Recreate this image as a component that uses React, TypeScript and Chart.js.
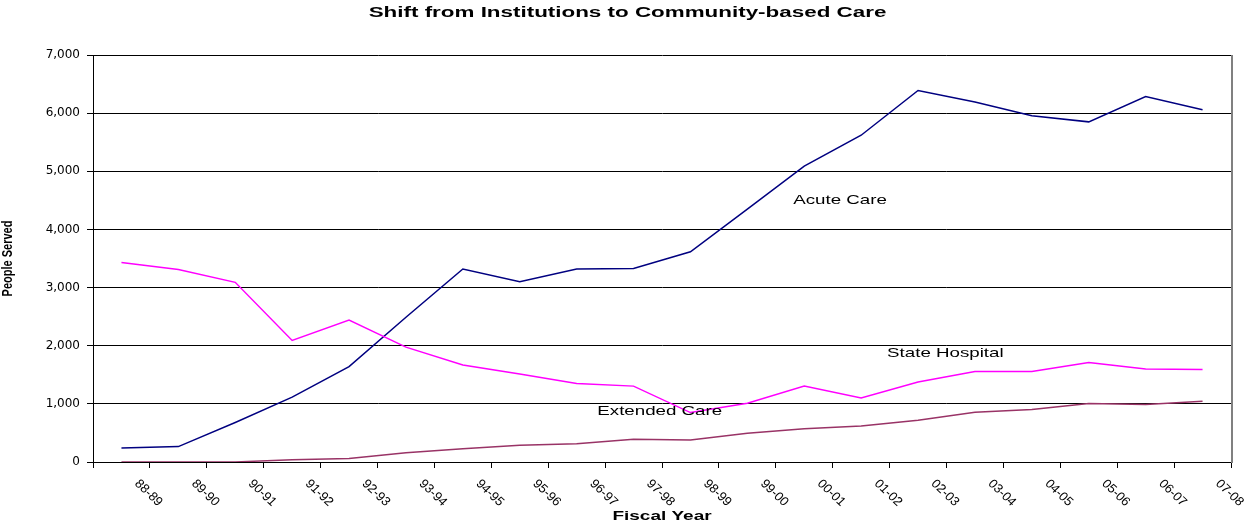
import React, { useEffect, useRef } from "react";
import { Chart, registerables } from "chart.js";

Chart.register(...registerables);

const FISCAL_YEARS = [
  "88-89", "89-90", "90-91", "91-92", "92-93", "93-94", "94-95", "95-96", "96-97", "97-98",
  "98-99", "99-00", "00-01", "01-02", "02-03", "03-04", "04-05", "05-06", "06-07", "07-08",
];

const ACUTE_CARE = [
  240, 265, 680, 1115, 1640, 2490, 3320, 3100, 3320, 3330,
  3615, 4350, 5090, 5620, 6390, 6190, 5955, 5850, 6285, 6060,
];

const STATE_HOSPITAL = [
  3430, 3310, 3090, 2090, 2440, 1975, 1670, 1515, 1350, 1305,
  850, 1010, 1305, 1100, 1375, 1555, 1555, 1710, 1600, 1590,
];

const EXTENDED_CARE = [
  0, 0, 0, 40, 60, 160, 230, 290, 315, 390,
  380, 495, 570, 620, 720, 855, 905, 1005, 990, 1045,
];

const Y_TICKS = [0, 1000, 2000, 3000, 4000, 5000, 6000, 7000];

const TITLE = "Shift from Institutions to Community-based Care";
const X_TITLE = "Fiscal Year";
const Y_TITLE = "People Served";

// Series labels drawn inside the plot (category index, value)
const SERIES_LABELS = [
  { text: "Acute Care", at: 12.63, value: 4500 },
  { text: "State Hospital", at: 14.48, value: 1875 },
  { text: "Extended Care", at: 9.46, value: 877 },
];

const FONT = "'Liberation Sans', Arial, sans-serif";

function drawText(
  ctx: CanvasRenderingContext2D,
  text: string,
  x: number,
  y: number,
  font: string,
  sx: number,
  rotation: number,
  align: CanvasTextAlign = "center"
) {
  ctx.save();
  ctx.translate(x, y);
  ctx.scale(sx, 1);
  ctx.rotate(rotation);
  ctx.font = font;
  ctx.fillStyle = "#000";
  ctx.textAlign = align;
  ctx.textBaseline = "middle";
  ctx.fillText(text, 0, 0);
  ctx.restore();
}

const textPlugin = {
  id: "excelText",
  afterDraw(chart: any) {
    const { ctx, chartArea } = chart;
    const xs = chart.scales.x;
    const ys = chart.scales.y;
    ctx.save();
    // right border of plot area
    ctx.strokeStyle = "#808080";
    ctx.lineWidth = 2;
    ctx.beginPath();
    ctx.moveTo(chartArea.right + 1, chartArea.top);
    ctx.lineTo(chartArea.right + 1, chartArea.bottom + 1);
    ctx.stroke();
    ctx.restore();

    // chart title
    drawText(ctx, TITLE, chart.width / 2 + 5, 13, `bold 14px ${FONT}`, 1.6, 0);

    // x tick labels, rotated downward
    FISCAL_YEARS.forEach((label, i) => {
      const px = xs.getPixelForTick(i);
      drawText(ctx, label, px + 27, chartArea.bottom + 31, `12.5px ${FONT}`, 1.05, Math.PI / 4);
    });

    // axis titles
    drawText(
      ctx,
      X_TITLE,
      (chartArea.left + chartArea.right) / 2,
      516,
      `bold 13px ${FONT}`,
      1.46,
      0
    );
    drawText(
      ctx,
      Y_TITLE,
      8,
      (chartArea.top + chartArea.bottom) / 2,
      `bold 11px ${FONT}`,
      1.3,
      -Math.PI / 2
    );

    // series labels
    SERIES_LABELS.forEach((s) => {
      drawText(
        ctx,
        s.text,
        xs.getPixelForValue(s.at),
        ys.getPixelForValue(s.value),
        `13px ${FONT}`,
        1.44,
        0
      );
    });
  },
};

export default function App() {
  const canvasRef = useRef<HTMLCanvasElement | null>(null);

  useEffect(() => {
    if (!canvasRef.current) return;
    const chart = new Chart(canvasRef.current, {
      type: "line",
      data: {
        labels: FISCAL_YEARS,
        datasets: [
          {
            label: "Extended Care",
            data: EXTENDED_CARE,
            borderColor: "#993366",
            backgroundColor: "#993366",
            borderWidth: 1.5,
            pointRadius: 0,
            tension: 0,
          },
          {
            label: "State Hospital",
            data: STATE_HOSPITAL,
            borderColor: "#FF00FF",
            backgroundColor: "#FF00FF",
            borderWidth: 1.5,
            pointRadius: 0,
            tension: 0,
          },
          {
            label: "Acute Care",
            data: ACUTE_CARE,
            borderColor: "#000080",
            backgroundColor: "#000080",
            borderWidth: 1.5,
            pointRadius: 0,
            tension: 0,
          },
        ],
      },
      options: {
        responsive: false,
        animation: false,
        layout: { padding: { top: 55, right: 14, bottom: 0, left: 0 } },
        plugins: {
          legend: { display: false },
          title: { display: false },
          tooltip: { enabled: false },
        },
        scales: {
          x: {
            type: "category",
            offset: true,
            grid: {
              display: true,
              offset: true,
              drawOnChartArea: false,
              drawTicks: true,
              tickLength: 6,
              color: "#000",
            },
            border: { display: true, color: "#000", width: 1 },
            ticks: { display: false, autoSkip: false },
            afterFit: (scale: any) => {
              scale.height = 61;
            },
          },
          y: {
            type: "linear",
            min: Y_TICKS[0],
            max: Y_TICKS[Y_TICKS.length - 1],
            grid: {
              color: "#000",
              lineWidth: 1,
              drawTicks: true,
              tickLength: 6,
            },
            border: { display: true, color: "#000", width: 1 },
            afterBuildTicks: (scale: any) => {
              scale.ticks = Y_TICKS.map((v) => ({ value: v }));
            },
            ticks: {
              padding: 7,
              color: "#000",
              font: { family: "'DejaVu Sans', sans-serif", size: 12 },
              callback: (v: any) => Number(v).toLocaleString("en-US"),
            },
            afterFit: (scale: any) => {
              scale.width = 93;
            },
          },
        },
      },
      plugins: [textPlugin],
    });
    return () => chart.destroy();
  }, []);

  return (
    <div style={{ position: "fixed", left: 0, top: 0, width: 1245, height: 523, background: "#fff" }}>
      <canvas ref={canvasRef} width={1245} height={523} style={{ display: "block" }} />
    </div>
  );
}
